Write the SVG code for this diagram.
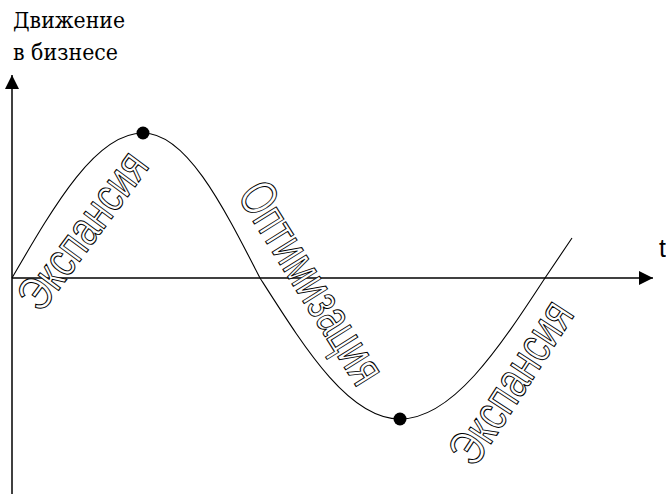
<svg xmlns="http://www.w3.org/2000/svg" width="666" height="494" viewBox="0 0 666 494">
<style>
.axis{stroke:#000;stroke-width:1.5;fill:none}
.curve{stroke:#000;stroke-width:1.1;fill:none}
.hollow{fill:#fff;stroke:#000;stroke-width:1.1;text-anchor:middle}
.dot{fill:#000}
</style>
<defs>
<marker id="arr" viewBox="0 0 14 14" refX="14" refY="7" markerWidth="14" markerHeight="14" markerUnits="userSpaceOnUse" orient="auto">
<path d="M0,0 L14,7 L0,14 Z" fill="#000"/>
</marker>
</defs>
<g id="title" font-family="DejaVu Serif, Liberation Serif, serif" font-size="22" fill="#000">
<text x="13" y="28" textLength="112" lengthAdjust="spacingAndGlyphs">Движение</text>
<text x="13" y="60" textLength="105" lengthAdjust="spacingAndGlyphs">в бизнесе</text>
</g>
<g id="connectors">
<line class="axis" x1="12" y1="494" x2="12" y2="75" marker-end="url(#arr)"/>
<line class="axis" x1="12" y1="278" x2="653" y2="278" marker-end="url(#arr)"/>
</g>
<g id="curve">
<path class="curve" d="M12,278 C55,204 96,133 143,133 C186,133 222,204 260,278 C306,350 349,419 400,419 C452,419 498,350 545,278 L572,238"/>
</g>
<g id="peak"><circle class="dot" cx="143" cy="133" r="6.5"/></g>
<g id="trough"><circle class="dot" cx="400" cy="419" r="6.5"/></g>
<g id="t-label"><text x="659" y="257" font-family="'Liberation Sans', Arial, sans-serif" font-size="25" fill="#000">t</text></g>
<g id="expansion1" font-family="'Liberation Sans', Arial, sans-serif"><text class="hollow" font-size="48" transform="translate(86,233) rotate(-53.5) scale(0.78,1)" y="12">Экспансия</text></g>
<g id="optimization" font-family="'Liberation Sans', Arial, sans-serif"><text class="hollow" font-size="52" transform="translate(308,285) rotate(58) scale(0.7,1)" y="13">Оптимизация</text></g>
<g id="expansion2" font-family="'Liberation Sans', Arial, sans-serif"><text class="hollow" font-size="50" transform="translate(515,385) rotate(-57) scale(0.75,1)" y="12">Экспансия</text></g>
</svg>
